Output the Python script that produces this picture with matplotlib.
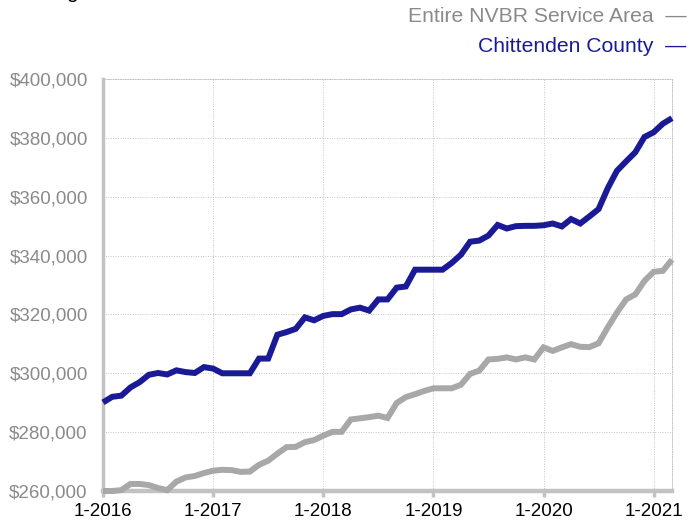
import matplotlib
matplotlib.use("Agg")
import matplotlib.pyplot as plt
from matplotlib.ticker import FuncFormatter

plt.rcParams['font.family'] = ['Liberation Sans', 'DejaVu Sans']

# monthly median values, Jan 2016 .. Mar 2021
months = list(range(63))
chittenden = [
    290100, 292000, 292400, 295200, 297000, 299500, 300100, 299600, 301000, 300400, 300100, 302100,
    301600, 300000, 300000, 300000, 300000, 305000, 305000, 313100, 314000, 315100, 319000, 318000,
    319500, 320100, 320100, 321700, 322300, 321300, 325100, 325100, 329100, 329500, 335200, 335200,
    335200, 335200, 337500, 340300, 344700, 345100, 346800, 350400, 349200, 350000, 350100, 350100,
    350300, 350900, 349900, 352400, 350900, 353300, 355800, 362900, 368800, 372000, 375100, 380300,
    381900, 384800, 386700,
]
nvbr_area = [
    260000, 260000, 260300, 262400, 262400, 262000, 261000, 260300, 263200, 264600, 265100, 266100,
    266900, 267200, 267100, 266500, 266600, 268900, 270300, 272700, 274900, 275000, 276600, 277300,
    278800, 280100, 280100, 284300, 284700, 285100, 285600, 284800, 289900, 291900, 292900, 294000,
    294900, 294900, 294900, 296100, 299800, 300900, 304700, 304900, 305400, 304700, 305400, 304700,
    308800, 307600, 308800, 309900, 309000, 308900, 310200, 315600, 320600, 325100, 326800, 331400,
    334500, 334800, 338600,
]
year_ticks = [0, 12, 24, 36, 48, 60]
year_labels = ["1-2016", "1-2017", "1-2018", "1-2019", "1-2020", "1-2021"]
y_ticks = list(range(260000, 400001, 20000))

blue = "#1a1a96"
gray_line = "#a8a8a8"
axis_gray = "#c2c2c2"
label_gray = "#8a8a8a"

W, H = 689, 525
fig = plt.figure(figsize=(W / 100, H / 100), dpi=100)
ax = fig.add_axes([103 / W, (H - 491) / H, (672 - 103) / W, (491 - 79) / H])

ax.plot(months, nvbr_area, color=gray_line, lw=4.3, solid_capstyle="butt",
        solid_joinstyle="miter", zorder=3, clip_on=False)
ax.plot(months, chittenden, color=blue, lw=4.3, solid_capstyle="butt",
        solid_joinstyle="miter", zorder=4, clip_on=False)

ax.set_xlim(0, 62)
ax.set_ylim(260000, 400000)
ax.set_xticks(year_ticks)
ax.set_xticklabels(year_labels)
ax.set_yticks(y_ticks)
ax.yaxis.set_major_formatter(FuncFormatter(lambda v, p: "${:,.0f}".format(v)))

ax.grid(True, linestyle=(0, (1, 1.5)), color="#c4c4c4", lw=0.7, zorder=1)
ax.set_axisbelow(True)

for side in ["top", "right"]:
    ax.spines[side].set_linestyle((0, (1, 1.5)))
    ax.spines[side].set_color("#c4c4c4")
    ax.spines[side].set_linewidth(0.7)
ax.spines["left"].set_color(axis_gray)
ax.spines["left"].set_linewidth(2.5)
ax.spines["bottom"].set_color(axis_gray)
ax.spines["bottom"].set_linewidth(3.2)
ax.spines["bottom"].set_zorder(2)

ax.tick_params(axis="x", length=4, width=2.5, color=axis_gray, pad=5,
               labelsize=13.5, labelcolor="black")
ax.tick_params(axis="y", length=0, pad=11, labelsize=13.5, labelcolor=label_gray)

# legend in the top right corner
fig.text(686 / W, 1 - 17 / H, "Entire NVBR Service Area  \u2014", color=label_gray,
         fontsize=15.2, ha="right", va="center")
fig.text(686 / W, 1 - 47 / H, "Chittenden County  \u2014", color=blue,
         fontsize=15.2, ha="right", va="center")

# remnant of the cut off title above the chart
fig.text(72 / W, 1 + 2 / H, "g", color="black", fontsize=15, ha="center", va="baseline")

fig.savefig("out.png", dpi=100)
